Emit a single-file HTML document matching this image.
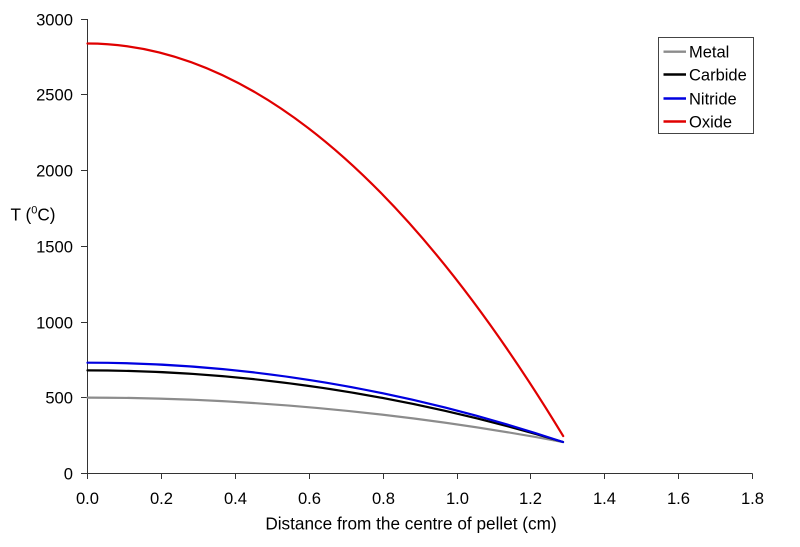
<!DOCTYPE html>
<html>
<head>
<meta charset="utf-8">
<style>
  html, body { margin: 0; padding: 0; background: #fff; }
  svg { display: block; }
  text { font-family: "Liberation Sans", Arial, sans-serif; fill: #000; }
</style>
</head>
<body>
<svg width="800" height="547" viewBox="0 0 800 547" xmlns="http://www.w3.org/2000/svg">
  <rect x="0" y="0" width="800" height="547" fill="#fff"/>

  <!-- Axes -->
  <g stroke="#333" stroke-width="1" fill="none" shape-rendering="crispEdges">
    <line x1="87.5" y1="19" x2="87.5" y2="473.5"/>
    <line x1="87.5" y1="473.5" x2="752.5" y2="473.5"/>
    <!-- y ticks -->
    <line x1="81" y1="473.5" x2="87.5" y2="473.5"/>
    <line x1="81" y1="397.5" x2="87.5" y2="397.5"/>
    <line x1="81" y1="322.5" x2="87.5" y2="322.5"/>
    <line x1="81" y1="246.5" x2="87.5" y2="246.5"/>
    <line x1="81" y1="170.5" x2="87.5" y2="170.5"/>
    <line x1="81" y1="94.5" x2="87.5" y2="94.5"/>
    <line x1="81" y1="19.5" x2="87.5" y2="19.5"/>
    <!-- x ticks -->
    <line x1="87.5" y1="473.5" x2="87.5" y2="479"/>
    <line x1="161.5" y1="473.5" x2="161.5" y2="479"/>
    <line x1="235.5" y1="473.5" x2="235.5" y2="479"/>
    <line x1="309.5" y1="473.5" x2="309.5" y2="479"/>
    <line x1="383.5" y1="473.5" x2="383.5" y2="479"/>
    <line x1="457.5" y1="473.5" x2="457.5" y2="479"/>
    <line x1="530.5" y1="473.5" x2="530.5" y2="479"/>
    <line x1="604.5" y1="473.5" x2="604.5" y2="479"/>
    <line x1="678.5" y1="473.5" x2="678.5" y2="479"/>
    <line x1="752.5" y1="473.5" x2="752.5" y2="479"/>
  </g>

  <!-- Y tick labels -->
  <g font-size="16.6" text-anchor="end">
    <text x="73" y="479.5">0</text>
    <text x="73" y="403.5">500</text>
    <text x="73" y="328.5">1000</text>
    <text x="73" y="252.5">1500</text>
    <text x="73" y="176.5">2000</text>
    <text x="73" y="100.5">2500</text>
    <text x="73" y="25.5">3000</text>
  </g>

  <!-- X tick labels -->
  <g font-size="16.6" text-anchor="middle">
    <text x="87.5" y="504">0.0</text>
    <text x="161.5" y="504">0.2</text>
    <text x="235.5" y="504">0.4</text>
    <text x="309.5" y="504">0.6</text>
    <text x="383.5" y="504">0.8</text>
    <text x="457.5" y="504">1.0</text>
    <text x="530.5" y="504">1.2</text>
    <text x="604.5" y="504">1.4</text>
    <text x="678.5" y="504">1.6</text>
    <text x="752.5" y="504">1.8</text>
  </g>

  <!-- Axis titles -->
  <text x="411" y="529.5" font-size="17.2" text-anchor="middle">Distance from the centre of pellet (cm)</text>
  <text x="10.5" y="220.7" font-size="17.2">T (<tspan font-size="11" dy="-7">0</tspan><tspan dy="7">C)</tspan></text>

  <!-- Series -->
  <g fill="none" stroke-width="2.2" stroke-linecap="round">
    <path d="M87.5,397.6 Q325.3,397.6 563,442" stroke="#8c8c8c"/>
    <path d="M87.5,370.4 Q325.3,370.4 563,442" stroke="#000"/>
    <path d="M87.5,362.7 Q325.3,362.7 563,442" stroke="#0000e0"/>
    <path d="M87.5,43.5 Q325.3,43.5 563.2,436.1" stroke="#e00000"/>
  </g>

  <!-- Legend -->
  <rect x="658.5" y="37.5" width="95" height="96" fill="#fff" stroke="#444" stroke-width="1" shape-rendering="crispEdges"/>
  <g stroke-width="2.4">
    <line x1="663.5" y1="51.7" x2="686" y2="51.7" stroke="#8c8c8c"/>
    <line x1="663.5" y1="74.5" x2="686" y2="74.5" stroke="#000"/>
    <line x1="663.5" y1="98.5" x2="686" y2="98.5" stroke="#0000e0"/>
    <line x1="663.5" y1="121.5" x2="686" y2="121.5" stroke="#e00000"/>
  </g>
  <g font-size="16.5">
    <text x="689" y="57.5">Metal</text>
    <text x="689" y="80.5">Carbide</text>
    <text x="689" y="104.5">Nitride</text>
    <text x="689" y="127.5">Oxide</text>
  </g>
</svg>
</body>
</html>
